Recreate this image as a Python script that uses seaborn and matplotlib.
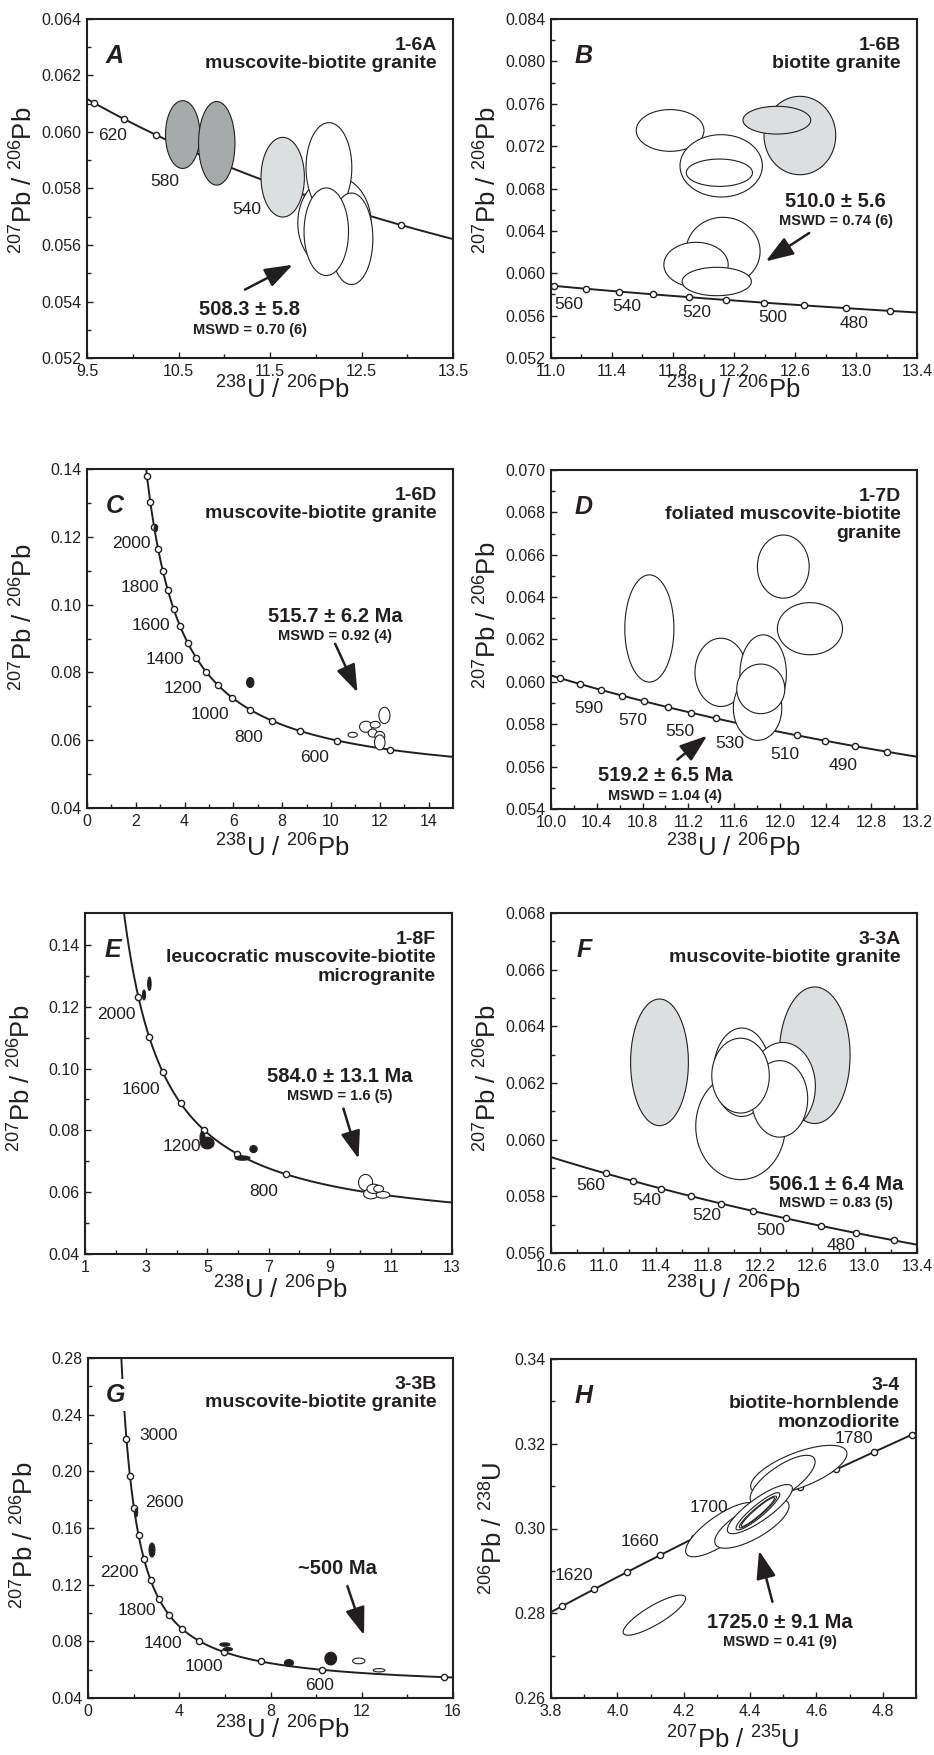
import numpy as np
import matplotlib
matplotlib.use("Agg")
import matplotlib.pyplot as plt
import seaborn as sns

sns.set_style("ticks")
plt.rcParams["font.family"] = ["Liberation Sans", "DejaVu Sans"]
plt.rcParams["mathtext.fontset"] = "custom"
plt.rcParams["mathtext.rm"] = "Liberation Sans"
plt.rcParams["mathtext.default"] = "regular"

INK = "#231f20"
DARK = "#a7aaab"
LIGHT = "#dcdfe0"

# decay constants (1/yr) and 238U/235U
L238, L235, U85 = 1.55125e-10, 9.8485e-10, 137.88

# ---------------- data ----------------
# ellipse = (centre x, centre y, half range x, half range y, rho)
a_marker_ages = [480, 500, 520, 540, 560, 580, 600, 620, 640]
a_label_ages = [620, 580, 540]
a_dark = [(10.546, 0.05991, 0.188, 0.00120, 0.0),
          (10.918, 0.05960, 0.199, 0.00148, 0.0)]
a_light = [(11.639, 0.05840, 0.237, 0.00141, 0.0)]
a_white = [(12.204, 0.05678, 0.400, 0.00165, 0.0),
           (12.144, 0.05874, 0.250, 0.00159, 0.0),
           (12.390, 0.05622, 0.234, 0.00162, 0.0),
           (12.115, 0.05647, 0.243, 0.00155, 0.0)]

b_marker_ages = [470, 480, 490, 500, 510, 520, 530, 540, 550, 560]
b_label_ages = [560, 540, 520, 500, 480]
b_light = [(12.632, 0.07300, 0.235, 0.00370, 0.0),
           (12.481, 0.07445, 0.222, 0.00131, 0.0)]
b_white = [(11.781, 0.07348, 0.222, 0.00197, 0.0),
           (12.116, 0.07014, 0.270, 0.00294, 0.0),
           (12.104, 0.06949, 0.217, 0.00129, 0.0),
           (12.128, 0.06207, 0.243, 0.00321, 0.0),
           (11.951, 0.06081, 0.211, 0.00211, 0.0),
           (12.087, 0.05922, 0.227, 0.00134, 0.0)]

c_marker_ages = [500, 600, 700, 800, 900, 1000, 1100, 1200, 1300, 1400,
                 1500, 1600, 1700, 1800, 1900, 2000, 2100, 2200]
c_label_ages = [2000, 1800, 1600, 1400, 1200, 1000, 800, 600]
c_black = [(2.82, 0.1225, 0.068, 0.00100, 0.0),
           (6.69, 0.07703, 0.150, 0.00147, 0.0)]
c_white = [(12.19, 0.06730, 0.226, 0.00240, 0.0),
           (11.43, 0.06397, 0.260, 0.00162, 0.0),
           (11.81, 0.06456, 0.205, 0.00098, 0.0),
           (10.89, 0.06160, 0.190, 0.00074, 0.0),
           (11.71, 0.06210, 0.185, 0.00118, 0.0),
           (12.00, 0.06112, 0.205, 0.00147, 0.0),
           (12.00, 0.05935, 0.215, 0.00220, 0.0)]

d_marker_ages = [480, 490, 500, 510, 520, 530, 540, 550, 560, 570, 580, 590, 600, 610]
d_label_ages = [590, 570, 550, 530, 510, 490]
d_white = [(10.860, 0.06252, 0.2146, 0.00253, 0.0),
           (12.031, 0.06544, 0.2263, 0.00149, 0.0),
           (12.264, 0.06251, 0.2847, 0.00123, 0.0),
           (11.485, 0.06045, 0.2263, 0.00161, 0.0),
           (11.855, 0.06038, 0.2030, 0.00184, 0.0),
           (11.806, 0.05876, 0.2117, 0.00152, 0.0),
           (11.834, 0.05967, 0.2100, 0.00117, 0.0)]

e_marker_ages = [600, 800, 1000, 1200, 1400, 1600, 1800, 2000]
e_label_ages = [2000, 1600, 1200, 800]
e_black = [(2.93, 0.1238, 0.050, 0.00160, 0.0),
           (3.106, 0.1274, 0.055, 0.00216, 0.0),
           (5.00, 0.0759, 0.220, 0.00190, 0.0),
           (4.84, 0.0776, 0.080, 0.00200, 0.0),
           (6.15, 0.07103, 0.245, 0.00070, 0.0),
           (6.51, 0.07395, 0.120, 0.00114, 0.0)]
e_white = [(10.174, 0.06314, 0.229, 0.00260, 0.0),
           (10.35, 0.05946, 0.240, 0.00162, 0.0),
           (10.44, 0.06108, 0.220, 0.00150, 0.0),
           (10.74, 0.05914, 0.220, 0.00108, 0.0),
           (10.60, 0.06110, 0.160, 0.00110, 0.0)]

f_marker_ages = [470, 480, 490, 500, 510, 520, 530, 540, 550, 560]
f_label_ages = [560, 540, 520, 500, 480]
f_light = [(11.430, 0.06273, 0.221, 0.002235, 0.0),
           (12.617, 0.06298, 0.271, 0.00241, 0.0)]
f_white = [(12.050, 0.06047, 0.3426, 0.00188, 0.0),
           (12.060, 0.06238, 0.2173, 0.00156, 0.0),
           (12.372, 0.06188, 0.2506, 0.00155, 0.0),
           (12.349, 0.06144, 0.2148, 0.00135, 0.0),
           (12.050, 0.06226, 0.2200, 0.00132, 0.0)]

g_marker_ages = [400, 600, 800, 1000, 1200, 1400, 1600, 1800, 2000,
                 2200, 2400, 2600, 2800, 3000]
g_label_ages = [3000, 2600, 2200, 1800, 1400, 1000, 600]
g_black = [(2.119, 0.1708, 0.058, 0.00290, 0.0),
           (2.805, 0.14444, 0.130, 0.00495, 0.0),
           (6.00, 0.07772, 0.220, 0.00120, 0.0),
           (6.13, 0.07443, 0.200, 0.00120, 0.0),
           (8.81, 0.06476, 0.200, 0.00236, 0.0),
           (10.64, 0.06782, 0.256, 0.00448, 0.0)]
g_white = [(11.87, 0.06617, 0.270, 0.00200, 0.0),
           (12.76, 0.05957, 0.256, 0.00118, 0.0)]

h_marker_ages = [1600, 1620, 1640, 1660, 1680, 1700, 1720, 1740, 1760, 1780, 1800]
h_label_ages = [1620, 1660, 1700, 1780]
h_white = [(4.1115, 0.27955, 0.0941, 0.00473, 0.84),
           (4.3138, 0.29972, 0.1080, 0.00640, 0.78),
           (4.5468, 0.31383, 0.1450, 0.00580, 0.66),
           (4.4054, 0.30114, 0.1120, 0.00580, 0.72),
           (4.4980, 0.31147, 0.0980, 0.00580, 0.74),
           (4.4295, 0.30457, 0.0980, 0.00580, 0.84),
           (4.4235, 0.30406, 0.0660, 0.00440, 0.91),
           (4.4235, 0.30390, 0.0560, 0.00375, 0.94),
           (4.4235, 0.30390, 0.0500, 0.00340, 0.95)]

TW_X = r"$^{238}$U / $^{206}$Pb"
TW_Y = r"$^{207}$Pb / $^{206}$Pb"

panels = [
    dict(letter="A", title="1-6A\nmuscovite-biotite granite", kind="tw",
         box=(87, 19, 453, 358), xlim=(9.5, 13.5), ylim=(0.052, 0.064),
         xt=np.arange(9.5, 13.6, 1.0), xm=np.arange(10.0, 13.6, 1.0), xf="%.1f",
         yt=np.arange(0.052, 0.0641, 0.002), ym=np.arange(0.053, 0.064, 0.002), yf="%.3f",
         ages=a_marker_ages, labels=a_label_ages,
         off={620: (-8.4, -12), 580: (-17.8, -22.3), 540: (-13, -21)},
         ell=[(a_dark, DARK), (a_light, LIGHT), (a_white, "white")],
         age=("508.3 ± 5.8", (11.28, 0.05371)), mswd=("MSWD = 0.70 (6)", (11.28, 0.0530)),
         arrow=((11.226, 0.05442), (11.748, 0.0553)), ylab_y=0.525, xlab_dy=-32),
    dict(letter="B", title="1-6B\nbiotite granite", kind="tw",
         box=(551, 19, 917, 358), xlim=(11.0, 13.4), ylim=(0.052, 0.084),
         xt=np.arange(11.0, 13.41, 0.4), xm=np.arange(11.2, 13.4, 0.4), xf="%.1f",
         yt=np.arange(0.052, 0.0841, 0.004), ym=np.arange(0.054, 0.084, 0.004), yf="%.3f",
         ages=b_marker_ages, labels=b_label_ages,
         off={560: (10.8, -13.7), "all": (5.8, -10.8)},
         ell=[(b_light, LIGHT), (b_white, "white")],
         age=("510.0 ± 5.6", (12.868, 0.06679)), mswd=("MSWD = 0.74 (6)", (12.868, 0.0649)),
         arrow=((12.693, 0.0638), (12.408, 0.06112)), ylab_y=0.525, xlab_dy=-32),
    dict(letter="C", title="1-6D\nmuscovite-biotite granite", kind="tw",
         box=(87, 469, 453, 808), xlim=(0, 15), ylim=(0.04, 0.14),
         xt=np.arange(0, 15, 2), xm=np.arange(1, 15, 2), xf="%d",
         yt=np.arange(0.04, 0.141, 0.02), ym=np.arange(0.05, 0.14, 0.02), yf="%.2f",
         ages=c_marker_ages, labels=c_label_ages, off={"all": (-16.5, -12.2)},
         ell=[(c_black, INK), (c_white, "white")],
         age=("515.7 ± 6.2 Ma", (10.17, 0.09648)), mswd=("MSWD = 0.92 (4)", (10.17, 0.09078)),
         arrow=((10.17, 0.08843), (11.085, 0.07409)), ylab_y=0.563, xlab_dy=-40),
    dict(letter="D", title="1-7D\nfoliated muscovite-biotite\ngranite", kind="tw",
         box=(551, 470, 917, 809), xlim=(10.0, 13.2), ylim=(0.054, 0.070),
         xt=np.arange(10.0, 13.21, 0.4), xm=np.arange(10.2, 13.2, 0.4), xf="%.1f",
         yt=np.arange(0.054, 0.0701, 0.002), ym=np.arange(0.055, 0.070, 0.002), yf="%.3f",
         ages=d_marker_ages, labels=d_label_ages, off={"all": (-8.6, -13.7)},
         ell=[(d_white, "white")],
         age=("519.2 ± 6.5 Ma", (10.996, 0.05557)), mswd=("MSWD = 1.04 (4)", (10.996, 0.0546)),
         arrow=((11.104, 0.05633), (11.366, 0.05746)), ylab_y=0.572, xlab_dy=-39),
    dict(letter="E", title="1-8F\nleucocratic muscovite-biotite\nmicrogranite", kind="tw",
         box=(85, 913, 452, 1254), xlim=(1, 13), ylim=(0.04, 0.1503),
         xt=np.arange(1, 14, 2), xm=np.arange(2, 13, 2), xf="%d",
         yt=np.arange(0.04, 0.141, 0.02), ym=np.arange(0.05, 0.15, 0.02), yf="%.2f",
         ages=e_marker_ages, labels=e_label_ages, off={"all": (-15.8, -12.2)},
         ell=[(e_black, INK), (e_white, "white")],
         age=("584.0 ± 13.1 Ma", (9.345, 0.09751)), mswd=("MSWD = 1.6 (5)", (9.345, 0.09103)),
         arrow=((9.45, 0.08703), (9.945, 0.07081)), ylab_y=0.516, xlab_dy=-36),
    dict(letter="F", title="3-3A\nmuscovite-biotite granite", kind="tw",
         box=(551, 913, 917, 1253), xlim=(10.6, 13.4), ylim=(0.056, 0.068),
         xt=np.arange(10.6, 13.41, 0.4), xm=np.arange(10.8, 13.4, 0.4), xf="%.1f",
         yt=np.arange(0.056, 0.0681, 0.002), ym=np.arange(0.057, 0.068, 0.002), yf="%.3f",
         ages=f_marker_ages, labels=f_label_ages, off={"all": (-10.8, -8.6)},
         ell=[(f_light, LIGHT), (f_white, "white")],
         age=("506.1 ± 6.4 Ma", (12.781, 0.05841)), mswd=("MSWD = 0.83 (5)", (12.781, 0.05776)),
         arrow=None, ylab_y=0.515, xlab_dy=-37),
    dict(letter="G", title="3-3B\nmuscovite-biotite granite", kind="tw",
         box=(88, 1358, 453, 1698), xlim=(0, 16), ylim=(0.04, 0.28),
         xt=np.arange(0, 17, 4), xm=np.arange(2, 16, 4), xf="%d",
         yt=np.arange(0.04, 0.281, 0.04), ym=np.arange(0.06, 0.28, 0.04), yf="%.2f",
         ages=g_marker_ages, labels=g_label_ages,
         off={3000: (23, 3), 2600: (22, 3.4), 2200: (-18, -9.6), 1800: (-16, -8.4),
              1400: (-14, -10.3), 1000: (-14.4, -10.8), 600: (-2, -11.5)},
         ell=[(g_black, INK), (g_white, "white")],
         age=("~500 Ma", (10.915, 0.13147)), mswd=None,
         arrow=((11.37, 0.1190), (12.1, 0.08433)), ylab_y=0.48, xlab_dy=-32),
    dict(letter="H", title="3-4\nbiotite-hornblende\nmonzodiorite", kind="weth",
         box=(551, 1359, 916, 1698), xlim=(3.8, 4.9), ylim=(0.26, 0.34),
         xt=np.arange(3.8, 4.81, 0.2), xm=np.arange(3.9, 4.9, 0.2), xf="%.1f",
         yt=np.arange(0.26, 0.341, 0.02), ym=np.arange(0.27, 0.34, 0.02), yf="%.2f",
         ages=h_marker_ages, labels=h_label_ages, off={"all": (-14.4, 9.7)},
         ell=[(h_white, "white")],
         age=("1725.0 ± 9.1 Ma", (4.4904, 0.27773)), mswd=("MSWD = 0.41 (9)", (4.4904, 0.27324)),
         arrow=((4.4673, 0.2827), (4.427, 0.29476)), ylab_y=0.50, xlab_dy=-42),
]


def concordia(ages, kind):
    t = np.asarray(ages, dtype=float) * 1e6
    e8 = np.exp(L238 * t) - 1
    e5 = np.exp(L235 * t) - 1
    if kind == "tw":
        return 1 / e8, e5 / e8 / U85
    return e5, e8


def ellipse(cx, cy, sx, sy, rho, n=160):
    th = np.linspace(0, 2 * np.pi, n)
    return cx + sx * np.cos(th), cy + sy * (rho * np.cos(th) + np.sqrt(1 - rho ** 2) * np.sin(th))


W, H = 934, 1755
fig = plt.figure(figsize=(W / 100, H / 100), dpi=100)

for p in panels:
    l, t, r, b = p["box"]
    ax = fig.add_axes([l / W, (H - b) / H, (r - l) / W, (b - t) / H])
    aw, ah = r - l, b - t

    # concordia curve and age ticks
    line_ages = np.linspace(1, 4500, 6000) if p["kind"] == "tw" else np.linspace(1300, 2100, 800)
    cx, cy = concordia(line_ages, p["kind"])
    sns.lineplot(x=cx, y=cy, ax=ax, color=INK, lw=1.4, sort=False, estimator=None, zorder=2)
    mx, my = concordia(p["ages"], p["kind"])
    sns.scatterplot(x=mx, y=my, ax=ax, s=20, color="white", edgecolor=INK,
                    linewidth=1.0, zorder=2.5)
    lx, ly = concordia(p["labels"], p["kind"])
    for age, x0, y0 in zip(p["labels"], lx, ly):
        dx, dy = p["off"].get(age, p["off"].get("all"))
        ax.annotate(str(age), (x0, y0), xytext=(dx, dy), textcoords="offset points",
                    ha="center", va="center", fontsize=12.5, color=INK, zorder=4)

    # analysis ellipses
    for group, fc in p["ell"]:
        for e in group:
            ex, ey = ellipse(*e)
            ax.fill(ex, ey, facecolor=fc, edgecolor=INK, lw=0.8, zorder=3)

    # annotations
    txt, xy = p["age"]
    ax.text(*xy, txt, ha="center", va="center", fontsize=14.5, fontweight="bold",
            color=INK, zorder=6)
    if p["mswd"]:
        txt, xy = p["mswd"]
        ax.text(*xy, txt, ha="center", va="center", fontsize=10.5, fontweight="bold",
                color=INK, zorder=6)
    if p["arrow"]:
        tail, head = p["arrow"]
        ax.annotate("", xy=head, xytext=tail,
                    arrowprops=dict(arrowstyle="-|>,head_length=0.85,head_width=0.3",
                                    mutation_scale=20, lw=1.8, color=INK,
                                    shrinkA=0, shrinkB=0), zorder=6)

    lx_off = 28 if l < 300 else 33
    ax.text(lx_off / aw, 1 - 37 / ah, p["letter"], transform=ax.transAxes,
            ha="center", va="center", fontsize=18, fontweight="bold", fontstyle="italic",
            color=INK, zorder=7,
            bbox=dict(facecolor="white", edgecolor="none", pad=3))
    ax.text(1 - 16 / aw, 1 - 18 / ah, p["title"], transform=ax.transAxes,
            ha="right", va="top", fontsize=14, fontweight="bold", color=INK,
            linespacing=1.1, zorder=7)

    # axes styling
    ax.set_xlim(*p["xlim"])
    ax.set_ylim(*p["ylim"])
    ax.set_xticks(p["xt"])
    ax.set_xticks(p["xm"], minor=True)
    ax.set_yticks(p["yt"])
    ax.set_yticks(p["ym"], minor=True)
    ax.set_xticklabels([p["xf"] % v for v in p["xt"]])
    ax.set_yticklabels([p["yf"] % v for v in p["yt"]])
    ax.tick_params(which="both", direction="in", colors=INK, labelsize=11.5,
                   top=False, right=False, width=1.0)
    ax.tick_params(which="major", length=4, pad=4)
    ax.tick_params(which="minor", length=3)
    for s in ax.spines.values():
        s.set_linewidth(1.5)
        s.set_color(INK)

    if p["kind"] == "tw":
        xl, yl = TW_X, TW_Y
    else:
        xl, yl = r"$^{207}$Pb / $^{235}$U", r"$^{206}$Pb / $^{238}$U"
    ax.set_xlabel(xl, fontsize=18.5, color=INK, va="center")
    ax.set_ylabel(yl, fontsize=18.5, color=INK, va="center")
    ax.xaxis.set_label_coords(0.533 if l < 300 else 0.497, p["xlab_dy"] / ah)
    ax.yaxis.set_label_coords(-0.172 if p["kind"] == "tw" else -0.156, p["ylab_y"])

fig.savefig("out.png", dpi=100)
